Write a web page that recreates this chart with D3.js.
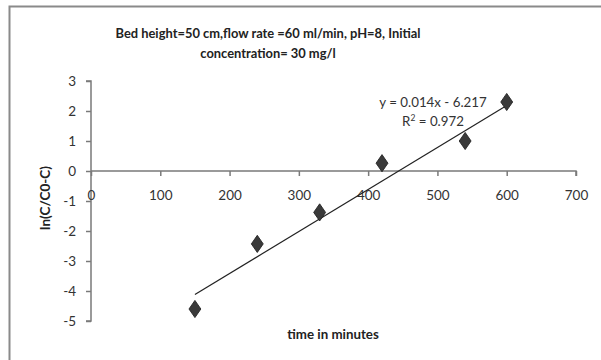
<!DOCTYPE html>
<html>
<head>
<meta charset="utf-8">
<script src="https://cdnjs.cloudflare.com/ajax/libs/d3/7.8.5/d3.min.js"></script>
<style>
  html, body { margin: 0; padding: 0; background: #fff; }
  svg { display: block; }
  text { font-family: Lato, "Open Sans", sans-serif; }
</style>
</head>
<body>
<svg id="chart" width="601" height="360"></svg>
<script>
const timeMin = [150, 240, 330, 420, 540, 600];
const lnValues = [-4.6, -2.43, -1.38, 0.26, 1.0, 2.3];
const xTicks = [0, 100, 200, 300, 400, 500, 600, 700];
const yTicks = [3, 2, 1, 0, -1, -2, -3, -4, -5];
const slope = 0.014, intercept = -6.217, r2 = 0.972;
const titleLines = ["Bed height=50 cm,flow rate =60 ml/min, pH=8, Initial", "concentration= 30 mg/l"];

const svg = d3.select("#chart");
const W = 601, H = 360;
svg.append("rect").attr("width", W).attr("height", H).attr("fill", "#fff");
svg.append("path").attr("d", `M9.5,${H}V6.5H${W}`).attr("fill", "none").attr("stroke", "#8a8a8a").attr("stroke-width", 2);

const x = d3.scaleLinear().domain([0, 700]).range([91, 576]);
const y = d3.scaleLinear().domain([-5, 3]).range([321, 81]);

svg.append("text").attr("x", 268).attr("y", 0).attr("text-anchor", "middle")
  .attr("font-size", 12.9).attr("font-weight", "bold").attr("fill", "#222")
  .selectAll("tspan").data(titleLines).join("tspan")
  .attr("x", 268).attr("y", (d, i) => 38 + i * 20).text(d => d);

const fmt = d => String(d);
const yAxis = svg.append("g").attr("transform", `translate(${x(0)},0)`)
  .call(d3.axisLeft(y).tickValues(yTicks).tickSize(5).tickPadding(10).tickFormat(fmt));
const xAxis = svg.append("g").attr("transform", `translate(0,${y(0)})`)
  .call(d3.axisBottom(x).tickValues(xTicks).tickSize(5).tickPadding(10).tickFormat(fmt));
[yAxis, xAxis].forEach(g => {
  g.select(".domain").attr("stroke", "#7a7a7a").attr("stroke-width", 1.5);
  g.selectAll(".tick line").attr("stroke", "#7a7a7a").attr("stroke-width", 1.5);
  g.selectAll(".tick text").attr("font-size", 13.5).attr("fill", "#333")
    .style("font-family", "Lato, 'Open Sans', sans-serif");
});
yAxis.select(".domain").attr("d", `M-5,${y(3)}H0V${y(-5)}H-5`);
xAxis.select(".domain").attr("d", `M${x(0)},0H${x(700)}V5`);
xAxis.selectAll(".tick text").attr("dy", "1.05em");

svg.append("text").attr("transform", `translate(45,${y(-0.9)}) rotate(-90)`)
  .attr("text-anchor", "middle").attr("dy", "0.35em")
  .attr("font-size", 13.5).attr("font-weight", "bold").attr("fill", "#222").text("ln(C/C0-C)");
svg.append("text").attr("x", 333).attr("y", 339).attr("text-anchor", "middle")
  .attr("font-size", 13.3).attr("font-weight", "bold").attr("fill", "#222").text("time in minutes");

const x0 = d3.min(timeMin), x1 = d3.max(timeMin);
svg.append("line")
  .attr("x1", x(x0)).attr("y1", y(slope * x0 + intercept))
  .attr("x2", x(x1)).attr("y2", y(slope * x1 + intercept))
  .attr("stroke", "#222").attr("stroke-width", 1.2);

const sym = d3.symbol().type(d3.symbolDiamond).size(85);
svg.append("g").selectAll("path").data(timeMin).join("path")
  .attr("d", sym)
  .attr("transform", (d, i) => `translate(${x(d)},${y(lnValues[i])}) scale(1.2,1)`)
  .attr("fill", "#3a3a3a").attr("stroke", "#222").attr("stroke-width", 0.8);

svg.append("text").attr("x", 433).attr("y", 107).attr("text-anchor", "middle")
  .attr("font-size", 13.3).attr("fill", "#333").text(`y = ${slope}x - ${Math.abs(intercept)}`);
const r2t = svg.append("text").attr("x", 433).attr("y", 126).attr("text-anchor", "middle")
  .attr("font-size", 13.3).attr("fill", "#333");
r2t.append("tspan").text("R");
r2t.append("tspan").attr("dy", -5).attr("font-size", 8.5).text("2");
r2t.append("tspan").attr("dy", 5).text(` = ${r2}`);
</script>
</body>
</html>
